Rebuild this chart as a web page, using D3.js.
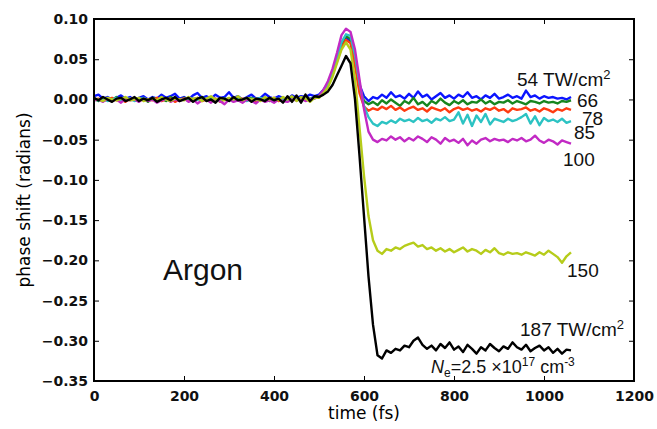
<!DOCTYPE html>
<html>
<head>
<meta charset="utf-8">
<script src="https://cdn.jsdelivr.net/npm/d3@7"></script>
<style>
  html, body { margin: 0; padding: 0; background: #fff; }
  svg { display: block; }
</style>
</head>
<body>
<svg id="chart" width="657" height="429"></svg>
<script>
// sample times (fs), shared by every trace
const times = [
  0,10,20,30,40,50,60,70,80,90,100,110,120,130,140,150,160,170,180,190,
  200,210,220,230,240,250,260,270,280,290,300,310,320,330,340,350,360,370,380,390,
  400,410,420,430,440,450,460,470,480,490,500,510,520,530,540,550,560,570,580,590,
  600,610,620,630,640,650,660,670,680,690,700,710,720,730,740,750,760,770,780,790,
  800,810,820,830,840,850,860,870,880,890,900,910,920,930,940,950,960,970,980,990,
  1000,1010,1020,1030,1040,1050,1060
];

const shift54 = [
  0.004,0.006,0.001,0.003,0.000,0.002,0.005,0.001,0.003,-0.001,
  0.002,0.004,0.000,0.003,0.001,0.006,0.002,0.004,0.007,0.001,
  0.003,0.000,0.005,0.008,0.002,0.004,0.001,0.006,0.002,0.003,
  0.009,0.002,0.004,0.000,0.003,0.006,0.001,0.002,0.007,0.003,
  0.001,0.004,0.002,0.000,0.005,0.002,0.004,0.003,0.006,0.004,
  0.006,0.012,0.020,0.032,0.048,0.065,0.076,0.072,0.048,0.018,
  0.004,-0.002,0.003,0.001,0.006,0.002,0.009,0.003,0.005,0.001,0.007,
  0.002,0.010,0.003,0.006,0.000,0.004,0.008,0.002,0.005,0.001,
  0.006,0.003,0.009,0.002,0.004,0.000,0.005,0.002,0.007,0.001,
  0.003,0.006,0.002,0.004,0.001,0.011,0.003,0.005,0.001,0.004,
  0.002,0.003,0.001,0.002,0.000,0.003
];

const shift66 = [
  0.001,-0.002,0.002,0.000,-0.001,0.003,-0.002,0.001,0.000,0.002,
  -0.001,0.001,-0.003,0.002,0.000,0.001,-0.002,0.003,0.000,-0.001,
  0.002,-0.002,0.001,0.000,0.003,-0.001,0.002,-0.002,0.000,0.001,
  -0.001,0.002,0.000,-0.003,0.001,0.002,-0.001,0.000,0.002,-0.002,
  0.001,0.000,-0.001,0.002,0.000,0.003,-0.001,0.002,0.001,0.002,
  0.004,0.011,0.020,0.033,0.050,0.068,0.079,0.075,0.048,0.015,
  -0.002,-0.006,-0.003,-0.007,-0.001,-0.005,0.000,-0.004,-0.008,-0.002,-0.005,
  0.002,-0.006,-0.003,-0.008,-0.002,-0.005,0.001,-0.004,-0.007,-0.002,
  -0.005,-0.001,-0.006,-0.003,-0.004,0.000,-0.005,-0.002,-0.006,-0.003,
  -0.004,-0.001,-0.005,-0.002,-0.004,-0.006,-0.002,-0.003,-0.005,-0.002,
  -0.004,-0.003,-0.005,-0.002,-0.003,-0.001
];

const shift78 = [
  -0.001,0.001,-0.002,0.000,0.002,-0.001,0.000,-0.003,0.001,0.000,
  -0.002,0.001,0.000,-0.001,0.002,-0.002,0.000,0.001,-0.003,0.000,
  0.001,-0.001,0.000,0.002,-0.002,0.000,-0.001,0.001,-0.003,0.000,
  0.001,-0.002,0.000,0.001,-0.001,0.000,-0.002,0.001,0.000,-0.001,
  0.002,-0.002,0.000,0.001,-0.001,0.002,0.000,0.001,-0.001,0.002,
  0.003,0.010,0.019,0.031,0.048,0.064,0.074,0.070,0.042,0.008,
  -0.009,-0.014,-0.011,-0.013,-0.009,-0.012,-0.008,-0.013,-0.010,-0.014,-0.011,
  -0.009,-0.013,-0.011,-0.015,-0.010,-0.012,-0.014,-0.011,-0.016,-0.012,
  -0.010,-0.013,-0.011,-0.014,-0.012,-0.015,-0.011,-0.013,-0.010,-0.014,
  -0.012,-0.016,-0.011,-0.013,-0.012,-0.010,-0.014,-0.012,-0.015,-0.011,
  -0.013,-0.016,-0.012,-0.014,-0.011,-0.013
];

const shift85 = [
  0.000,-0.001,0.001,-0.002,0.000,0.002,-0.001,0.000,0.001,-0.002,
  0.000,0.002,-0.001,0.000,-0.002,0.001,0.000,-0.001,0.002,-0.001,
  0.000,0.001,-0.002,0.000,0.001,-0.001,0.002,0.000,-0.002,0.001,
  0.000,-0.001,0.001,0.000,-0.002,0.001,0.000,0.002,-0.001,0.000,
  -0.002,0.001,0.000,-0.001,0.002,0.000,-0.001,0.001,0.000,0.002,
  0.003,0.010,0.020,0.034,0.052,0.071,0.081,0.079,0.055,0.020,
  -0.008,-0.022,-0.030,-0.033,-0.028,-0.030,-0.026,-0.029,-0.024,-0.027,-0.025,
  -0.028,-0.023,-0.027,-0.025,-0.029,-0.024,-0.026,-0.022,-0.027,-0.025,
  -0.016,-0.030,-0.019,-0.033,-0.020,-0.028,-0.018,-0.031,-0.024,-0.026,
  -0.028,-0.024,-0.027,-0.025,-0.022,-0.018,-0.030,-0.021,-0.032,-0.023,
  -0.027,-0.025,-0.028,-0.024,-0.029,-0.027
];

const shift100 = [
  -0.001,0.000,-0.003,0.001,-0.002,0.000,-0.004,0.001,-0.001,0.000,
  -0.003,0.001,-0.002,0.000,-0.004,-0.001,0.001,-0.003,0.000,-0.002,
  0.001,-0.003,0.000,-0.005,-0.001,0.000,-0.004,0.001,-0.002,-0.006,
  0.000,-0.003,-0.001,-0.004,0.000,-0.002,-0.005,0.000,-0.003,-0.001,
  -0.004,0.000,-0.002,-0.003,0.000,-0.001,0.001,-0.002,0.000,0.001,
  0.004,0.012,0.023,0.038,0.058,0.080,0.088,0.084,0.062,0.025,
  -0.012,-0.040,-0.050,-0.053,-0.049,-0.051,-0.046,-0.050,-0.047,-0.052,-0.048,
  -0.051,-0.046,-0.049,-0.053,-0.047,-0.050,-0.055,-0.048,-0.052,-0.050,
  -0.054,-0.049,-0.057,-0.051,-0.055,-0.050,-0.048,-0.052,-0.049,-0.051,
  -0.050,-0.053,-0.049,-0.051,-0.048,-0.052,-0.050,-0.045,-0.051,-0.054,
  -0.050,-0.052,-0.056,-0.051,-0.053,-0.055
];

const shift150 = [
  0.001,0.000,-0.002,0.002,0.000,-0.001,0.001,0.003,-0.001,0.000,
  0.002,-0.002,0.000,0.001,-0.001,0.003,0.000,-0.002,0.001,0.000,
  -0.001,0.003,0.000,0.002,-0.002,0.001,0.004,0.000,0.001,-0.001,
  0.002,0.000,0.004,-0.001,0.002,0.000,0.001,-0.002,0.003,0.000,
  0.002,-0.001,0.003,0.000,0.004,-0.002,0.003,0.001,-0.003,0.002,
  0.002,0.008,0.015,0.028,0.045,0.062,0.071,0.062,0.025,-0.035,
  -0.095,-0.145,-0.175,-0.188,-0.192,-0.186,-0.188,-0.184,-0.186,-0.182,-0.180,
  -0.178,-0.183,-0.181,-0.186,-0.184,-0.188,-0.185,-0.189,-0.186,-0.190,
  -0.187,-0.184,-0.189,-0.186,-0.188,-0.192,-0.187,-0.190,-0.185,-0.191,
  -0.193,-0.190,-0.192,-0.191,-0.193,-0.190,-0.192,-0.194,-0.190,-0.193,
  -0.188,-0.192,-0.196,-0.203,-0.195,-0.190
];

const shift187 = [
  0.002,-0.001,0.003,0.000,-0.003,0.001,0.002,-0.002,0.000,0.003,
  -0.002,0.001,-0.001,0.002,-0.003,0.000,0.002,-0.001,0.003,-0.002,
  0.000,0.002,-0.003,0.001,0.003,-0.002,0.000,-0.004,0.002,0.001,
  -0.002,0.003,-0.001,0.000,0.002,-0.003,0.001,0.000,-0.002,0.002,
  -0.001,0.001,-0.004,0.004,-0.003,0.005,-0.004,0.006,-0.002,0.004,
  0.003,0.006,0.010,0.018,0.030,0.042,0.054,0.045,0.000,-0.070,
  -0.145,-0.220,-0.280,-0.318,-0.322,-0.312,-0.315,-0.310,-0.312,-0.306,-0.308,
  -0.300,-0.296,-0.305,-0.310,
  -0.306,-0.312,-0.304,-0.309,-0.302,-0.311,-0.307,-0.314,-0.305,-0.310,
  -0.316,-0.308,-0.312,-0.304,-0.309,-0.313,-0.307,-0.310,-0.302,-0.308,
  -0.311,-0.305,-0.313,-0.309,-0.306,-0.312,-0.308,-0.315,-0.310,-0.316,
  -0.311,-0.312
];

// plotting order: low intensity first, 187 on top
const traces = [
  { values: shift54,  color: '#0b14ff' },
  { values: shift66,  color: '#17861f' },
  { values: shift78,  color: '#ff3b10' },
  { values: shift85,  color: '#2cc3c3' },
  { values: shift100, color: '#c22ac4' },
  { values: shift150, color: '#b6cc1a' },
  { values: shift187, color: '#000000' },
];

const xTicks = [0, 200, 400, 600, 800, 1000, 1200];
const yTicks = [0.10, 0.05, 0.00, -0.05, -0.10, -0.15, -0.20, -0.25, -0.30, -0.35];

const W = 657, H = 429;
const margin = { top: 19, right: 23, bottom: 48, left: 94 };
const iw = W - margin.left - margin.right;
const ih = H - margin.top - margin.bottom;

const svg = d3.select('#chart');
const g = svg.append('g').attr('transform', `translate(${margin.left},${margin.top})`);

const x = d3.scaleLinear().domain([0, 1200]).range([0, iw]);
const y = d3.scaleLinear().domain([-0.35, 0.10]).range([ih, 0]);

const fmtY = (d) => (d < 0 ? '\u2212' : '') + Math.abs(d).toFixed(2);

// ticks on all four sides, pointing inward
const tickStyle = (sel) => {
  sel.select('.domain').remove();
  sel.selectAll('.tick line').attr('stroke', '#000').attr('stroke-width', 1);
  sel.selectAll('.tick text')
    .attr('font-family', 'DejaVu Sans, sans-serif')
    .attr('font-weight', 'bold')
    .attr('font-size', 14)
    .attr('fill', '#111');
};

g.append('g').attr('transform', `translate(0,${ih})`)
  .call(d3.axisBottom(x).tickValues(xTicks).tickSizeInner(-5).tickSizeOuter(0).tickPadding(10).tickFormat(d3.format('d')))
  .call(tickStyle);
g.append('g')
  .call(d3.axisTop(x).tickValues(xTicks).tickSizeInner(-5).tickSizeOuter(0).tickFormat(''))
  .call(tickStyle);
g.append('g')
  .call(d3.axisLeft(y).tickValues(yTicks).tickSizeInner(-5).tickSizeOuter(0).tickPadding(6).tickFormat(fmtY))
  .call(tickStyle);
g.append('g').attr('transform', `translate(${iw},0)`)
  .call(d3.axisRight(y).tickValues(yTicks).tickSizeInner(-5).tickSizeOuter(0).tickFormat(''))
  .call(tickStyle);

const line = d3.line()
  .x((d, i) => x(times[i]))
  .y((d) => y(d));

g.append('g').selectAll('path')
  .data(traces)
  .join('path')
  .attr('d', (d) => line(d.values))
  .attr('fill', 'none')
  .attr('stroke', (d) => d.color)
  .attr('stroke-width', 2.4)
  .attr('stroke-linejoin', 'round');

// frame
g.append('rect')
  .attr('width', iw).attr('height', ih)
  .attr('fill', 'none').attr('stroke', '#000').attr('stroke-width', 2);

// axis titles
svg.append('text')
  .attr('x', margin.left + iw / 2).attr('y', 419)
  .attr('text-anchor', 'middle')
  .attr('font-family', 'DejaVu Sans, sans-serif').attr('font-size', 17)
  .text('time (fs)');
svg.append('text')
  .attr('transform', `translate(30,${margin.top + ih / 2}) rotate(-90)`)
  .attr('text-anchor', 'middle')
  .attr('font-family', 'DejaVu Sans, sans-serif').attr('font-size', 17)
  .text('phase shift (radians)');

// annotations
const ann = svg.append('g')
  .attr('font-family', 'Liberation Sans, Arial, sans-serif')
  .attr('font-size', 19).attr('fill', '#111');

function intensity(xp, yp, num, unit) {
  const t = ann.append('text').attr('x', xp).attr('y', yp);
  t.append('tspan').text(num + (unit ? ' TW/cm' : ''));
  if (unit) t.append('tspan').attr('dy', -7).attr('font-size', 13).text('2');
}
intensity(517, 86, '54', true);
intensity(577, 107, '66', false);
intensity(582, 125, '78', false);
intensity(574, 139, '85', false);
intensity(563, 166, '100', false);
intensity(567, 277, '150', false);
intensity(520, 336, '187', true);

const ne = ann.append('text').attr('x', 431).attr('y', 373).attr('font-size', 18);
ne.append('tspan').attr('font-style', 'italic').text('N');
ne.append('tspan').attr('dy', 4).attr('font-size', 12).text('e');
ne.append('tspan').attr('dy', -4).text('=2.5 \u00d710');
ne.append('tspan').attr('dy', -7).attr('font-size', 12).text('17');
ne.append('tspan').attr('dy', 7).text(' cm');
ne.append('tspan').attr('dy', -7).attr('font-size', 12).text('-3');

svg.append('text')
  .attr('x', 163).attr('y', 280)
  .attr('font-family', 'Liberation Sans, Arial, sans-serif')
  .attr('font-size', 30).attr('fill', '#111')
  .text('Argon');
</script>
</body>
</html>
